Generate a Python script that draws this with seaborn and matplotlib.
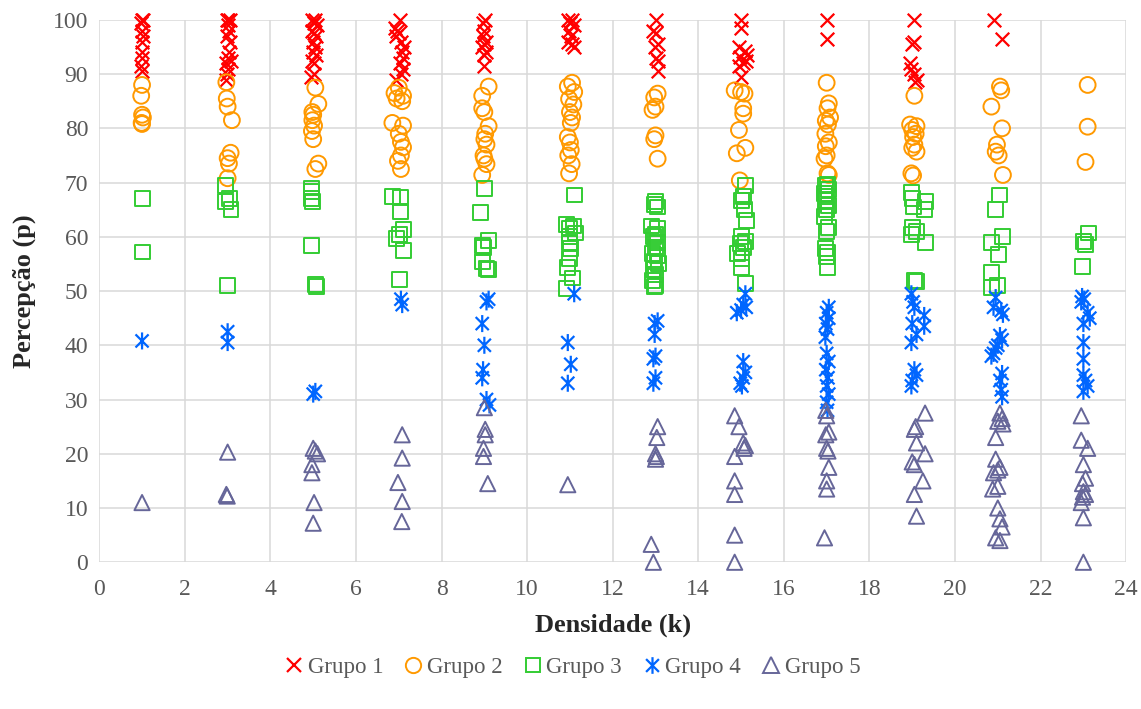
import numpy as np
import pandas as pd
import matplotlib.pyplot as plt
import seaborn as sns
from matplotlib.path import Path
from matplotlib.lines import Line2D

# ---------------------------------------------------------------------------
# DATA  (densidade k with small jitter, percepcao p)
# ---------------------------------------------------------------------------
g1_x = [1.0, 1.03, 0.98, 1.0, 1.02, 0.99, 1.0, 1.01, 0.98, 1.0,
        2.98, 3.05, 3.02, 3.0, 3.03, 2.99, 3.05, 3.04, 3.0, 3.08, 2.97, 3.02, 2.99, 2.96,
        4.97, 5.05, 5.02, 5.08, 4.98, 5.03, 5.06, 4.99, 5.04, 5.0, 5.07, 4.98, 5.03, 5.02, 4.96,
        7.02, 6.9, 6.95, 7.0, 6.93, 7.05, 7.12, 7.08, 7.1, 7.03, 7.1, 7.05, 6.93,
        9.02, 8.98, 9.0, 8.97, 9.03, 9.0, 8.95, 9.05, 9.0, 9.0,
        10.95, 11.05, 11.0, 11.1, 10.98, 11.02, 10.96, 11.05, 11.1,
        13.0, 12.95, 13.0, 13.05, 12.98, 13.0, 13.05, 13.05,
        15.0, 15.0, 14.95, 15.1, 15.15, 14.98, 15.12, 15.05, 14.95, 15.0,
        17.0, 17.0,
        19.05, 19.05, 19.0, 18.95, 18.98, 19.05, 19.1, 19.07,
        20.9, 21.1]
g1_y = [100, 100, 99.5, 98, 97, 96, 94, 93, 91.5, 90.5,
        100, 100, 100, 99, 98, 97, 96, 94, 93, 92.5, 92, 91, 90, 89,
        100, 100, 99.5, 99, 98, 97.5, 97, 96, 95, 94, 93.5, 92.5, 92, 90, 89.5,
        100, 98.5, 98, 97.5, 97, 96, 95, 94, 93, 92, 91, 90, 89,
        100, 99.5, 98, 97, 96, 95.5, 95, 94, 93.5, 91.5,
        100, 100, 99.5, 99, 98, 97, 96, 95.5, 95,
        100, 98, 97.5, 95.5, 95, 93, 92.5, 90.5,
        100, 98.5, 95, 94.3, 93.5, 93.2, 92.5, 92, 91.5, 89.5,
        100, 96.5,
        100, 96, 95.5, 92, 91, 90, 89, 88.5,
        100, 96.5]

g2_x = [1.0, 0.98, 1.0, 1.02, 0.99, 1.0,
        2.97, 2.98, 3.0, 3.1, 3.07, 3.0, 3.03, 3.0,
        5.05, 5.12, 4.98, 5.0, 4.98, 5.02, 4.97, 5.0, 5.12, 5.05,
        7.0, 6.9, 7.1, 6.95, 7.08, 6.85, 7.1, 7.0, 7.05, 7.1, 7.05, 6.98, 7.05,
        9.1, 8.95, 8.95, 9.0, 9.1, 9.02, 9.0, 9.05, 8.98, 9.0, 9.05, 8.95,
        11.05, 10.95, 11.1, 10.98, 11.08, 11.0, 11.05, 11.02, 10.95, 11.0, 11.02, 10.96, 11.04, 10.98,
        13.05, 12.97, 13.0, 12.93, 13.0, 12.97, 13.05,
        14.85, 15.0, 15.08, 15.05, 15.05, 14.95, 15.1, 14.9, 14.97,
        17.0, 17.05, 17.02, 17.08, 16.98, 17.03, 16.97, 17.05, 16.98, 17.0, 16.95, 17.02, 17.05,
        19.05, 18.95, 19.1, 19.0, 19.08, 19.02, 19.05, 19.0, 19.1, 18.98, 19.02,
        21.05, 21.08, 20.85, 21.1, 20.98, 20.95, 21.02, 21.12,
        23.1, 23.1, 23.05]
g2_y = [88, 86, 82.5, 82, 81, 80.8,
        88.5, 85.5, 84, 81.5, 75.5, 74.5, 73.5, 70.8,
        87.5, 84.5, 83, 82.5, 81.5, 80.5, 79.5, 78, 73.5, 72.5,
        87.5, 86.5, 86, 85.5, 85, 81, 80.5, 79, 77.5, 76.5, 75, 74, 72.5,
        87.7, 86, 83.7, 83, 80.4, 79, 78, 77, 75, 74.4, 73.4, 71.4,
        88.4, 87.7, 86.7, 85.4, 84.4, 83, 82, 81, 78.4, 77.4, 76, 75, 73.4, 71.7,
        86.4, 85.7, 84, 83.4, 78.7, 78, 74.4,
        87, 86.7, 86.4, 83.7, 82.7, 79.7, 76.4, 75.4, 70.4,
        88.4, 84.6, 83.7, 82, 81.4, 80.7, 79, 77.4, 76.7, 75, 74.4, 71.7, 71.4,
        86, 80.7, 80.4, 79.7, 79, 78.4, 77, 76.4, 75.7, 71.7, 71.3,
        87.7, 87, 84, 80, 77, 75.7, 75, 71.4,
        88, 80.3, 73.8]

g3_x = [1.0, 1.0,
        2.95, 3.05, 2.95, 3.08, 3.0,
        4.95, 4.97, 4.95, 4.98, 4.95, 5.05, 5.07,
        6.85, 7.05, 7.05, 7.1, 7.02, 6.95, 7.12, 7.02,
        9.0, 8.9, 9.1, 8.95, 8.98, 8.95, 9.05, 9.1,
        11.1, 10.92, 11.08, 11.0, 11.12, 10.98, 11.0, 11.02, 11.0, 10.95, 11.05, 10.92,
        13.0, 12.98, 13.05, 12.9, 13.05, 13.0, 12.95, 13.05, 13.0, 12.92, 13.05, 12.98, 13.06,
        12.95, 13.0, 12.93, 13.0, 12.97,
        15.1, 15.05, 15.02, 15.08, 15.12, 15.02, 15.1, 14.98, 15.05, 14.92, 15.0, 15.0, 15.1,
        17.02, 16.98, 17.05, 16.95, 17.0, 16.97, 17.05, 17.0, 16.96, 17.05, 17.0, 16.98, 17.03,
        17.0, 17.02,
        18.98, 19.0, 19.3, 19.02, 19.28, 19.0, 19.1, 18.98, 19.3, 19.05, 19.1,
        21.05, 20.95, 21.12, 20.85, 21.02, 20.85, 21.0, 20.85,
        23.12, 23.0, 23.05, 22.97]
g3_y = [67, 57.2,
        69.5, 67, 66.5, 65, 51,
        69, 68.4, 67, 66.5, 58.4, 51.2, 50.8,
        67.5, 67.2, 64.7, 61.4, 60.4, 59.7, 57.5, 52.2,
        68.9, 64.4, 59.4, 58.4, 58, 55.4, 54.2, 54,
        67.7, 62.2, 62, 61.5, 60.7, 60, 59, 57.8, 56, 54.4, 52.4, 50.4,
        66.5, 66, 65.5, 62, 61.5, 60.5, 60, 59, 58, 57, 56.5, 55.5, 55,
        54, 53, 52, 51, 50.8,
        69.4, 67.4, 66.7, 65, 63, 60, 59.2, 58.7, 58, 57, 56, 54.4, 51.4,
        69.7, 69.4, 68.7, 68, 67.4, 66.7, 65.7, 65, 63.7, 61.7, 61, 57.8, 57.1,
        56.4, 54.4,
        68.2, 67, 66.5, 65.5, 65, 61.7, 61, 60.4, 59, 52, 51.7,
        67.7, 65, 60, 59, 56.7, 53.4, 51, 50.7,
        60.7, 59.2, 58.5, 54.5]

g4_x = [1.0,
        3.0, 3.0,
        5.05, 5.0,
        7.05, 7.08,
        9.1, 9.05, 8.95, 9.0, 8.97, 8.95, 9.05, 9.12,
        11.1, 10.95, 11.02, 10.95,
        13.05, 12.98, 12.98, 13.0, 12.95, 13.0, 12.95,
        15.1, 15.05, 15.12, 15.0, 14.9, 15.05, 15.1, 15.05, 14.98, 15.02,
        17.05, 17.0, 17.05, 16.98, 17.02, 16.97, 17.0, 17.05, 16.98, 17.03, 17.0, 17.05, 17.0, 17.02,
        18.98, 19.02, 19.05, 19.28, 19.0, 19.28, 19.1, 18.98, 19.05, 19.1, 19.0, 18.98,
        20.95, 20.9, 21.08, 21.12, 21.05, 21.1, 21.0, 20.95, 20.9, 20.85, 21.1, 21.05, 21.08, 21.1,
        22.97, 23.02, 22.95, 23.1, 23.15, 23.0, 23.0, 23.0, 23.0, 23.05, 23.1, 23.0]
g4_y = [40.8,
        42.5, 40.5,
        31.5, 31.0,
        48.5, 47.5,
        48.5, 48, 44, 40, 35.5, 34, 30, 29,
        49.5, 40.5, 36.5, 33,
        44.5, 44, 42, 38, 37.5, 34, 33,
        49.5, 47.5, 47, 46.5, 46, 37, 35, 34, 33, 32.5,
        47, 46, 45, 44, 43, 41.5, 38.5, 37, 35.5, 34, 32.5, 31, 29.5, 28,
        49.5, 48, 47, 45.5, 44, 43.5, 42, 40.5, 35.5, 34.5, 33.5, 32.5,
        48.8, 47, 46.4, 45.7, 41.8, 41, 40, 39.5, 38.5, 38, 34.8, 33.5, 31.8, 30.5,
        49, 48.5, 48, 46, 45, 44, 40.5, 37.5, 34.5, 33.5, 32.5, 31.5]

g5_x = [1.0,
        3.0, 2.97, 2.99,
        5.0, 5.05, 5.1, 4.97, 4.97, 5.02, 5.0,
        7.08, 7.08, 6.98, 7.08, 7.07,
        9.0, 9.02, 9.02, 8.98, 8.98, 9.08,
        10.95,
        13.05, 13.03, 13.0, 13.02, 13.0, 12.9, 12.95,
        14.85, 14.95, 15.05, 15.1, 15.07, 14.85, 14.85, 14.85, 14.85, 14.85,
        16.98, 17.0, 17.05, 16.98, 17.0, 17.03, 17.05, 17.0, 17.0, 16.95,
        19.3, 19.08, 19.05, 19.1, 19.3, 19.0, 19.05, 19.25, 19.05, 19.1,
        21.05, 21.1, 21.0, 21.12, 20.95, 20.95, 21.05, 21.0, 20.9, 21.0, 20.88, 21.0,
        21.05, 21.1, 20.95, 21.05,
        22.95, 22.95, 23.1, 23.0, 23.05, 22.98, 23.0, 23.05, 22.98, 22.95, 23.0, 23.0]
g5_y = [11,
        20.3, 12.5, 12.2,
        21, 20.5, 20, 18, 16.5, 11, 7.2,
        23.5, 19.2, 14.7, 11.2, 7.5,
        28.5, 24.5, 23.5, 21, 19.5, 14.5,
        14.3,
        25, 23, 20, 19.5, 19, 3.3, 0,
        27, 25, 22, 21.5, 21, 19.5, 15, 12.5, 5, 0,
        28, 27, 24, 23.5, 21, 20.5, 17.5, 15, 13.5, 4.5,
        27.5, 25, 24.5, 22, 20, 18.5, 18, 15, 12.5, 8.5,
        27.5, 26.5, 26, 25.5, 23, 19, 17.5, 17, 16.5, 14, 13.5, 10,
        8, 6.5, 4.5, 4,
        27, 22.5, 21, 18, 15.5, 14.5, 13, 12.5, 12, 11, 8.2, 0]

group_names = ['Grupo 1', 'Grupo 2', 'Grupo 3', 'Grupo 4', 'Grupo 5']
x_ticks = list(range(0, 25, 2))
y_ticks = list(range(0, 101, 10))

# ---------------------------------------------------------------------------
# PLOT
# ---------------------------------------------------------------------------
sns.set_style('white')
plt.rcParams['font.family'] = ['Liberation Serif', 'DejaVu Serif']

# excel-like asterisk marker (x plus vertical bar)
star = Path([(-1, -1), (1, 1), (-1, 1), (1, -1), (0, -1.3), (0, 1.3)],
            [Path.MOVETO, Path.LINETO, Path.MOVETO, Path.LINETO, Path.MOVETO, Path.LINETO])

styles = [
    dict(marker='x', color='#FF0000', s=95, linewidth=1.6),
    dict(marker='o', facecolor='none', edgecolor='#FF9900', s=130, linewidth=1.4),
    dict(marker='s', facecolor='none', edgecolor='#33CC33', s=115, linewidth=1.4),
    dict(marker=star, facecolor='none', edgecolor='#0066FF', s=150, linewidth=1.6),
    dict(marker='^', facecolor='none', edgecolor='#666699', s=120, linewidth=1.4),
]
xs = [g1_x, g2_x, g3_x, g4_x, g5_x]
ys = [g1_y, g2_y, g3_y, g4_y, g5_y]

fig, ax = plt.subplots(figsize=(11.41, 7.09), dpi=100)
fig.subplots_adjust(left=0.087, right=0.987, top=0.972, bottom=0.207)

for name, gx, gy, st in zip(group_names, xs, ys, styles):
    df = pd.DataFrame({'k': gx, 'p': gy})
    sns.scatterplot(data=df, x='k', y='p', ax=ax, clip_on=False, zorder=3, **st)

ax.set_xlim(0, 24)
ax.set_ylim(0, 100)
ax.set_xticks(x_ticks)
ax.set_yticks(y_ticks)
ax.grid(True, color='#D9D9D9', linewidth=1.1)
ax.set_axisbelow(True)
for sp in ax.spines.values():
    sp.set_visible(False)
ax.tick_params(length=0, labelsize=17, colors='#595959')
ax.tick_params(axis='x', pad=12)
ax.tick_params(axis='y', pad=8)
ax.set_xlabel('Densidade (k)', fontsize=19, fontweight='bold', labelpad=10)
ax.set_ylabel('Percepção (p)', fontsize=19, fontweight='bold', labelpad=12)

handles = [
    Line2D([], [], linestyle='none', marker='x', color='#FF0000', markersize=10, markeredgewidth=1.6),
    Line2D([], [], linestyle='none', marker='o', markerfacecolor='none', markeredgecolor='#FF9900', markersize=11, markeredgewidth=1.4),
    Line2D([], [], linestyle='none', marker='s', markerfacecolor='none', markeredgecolor='#33CC33', markersize=10.5, markeredgewidth=1.4),
    Line2D([], [], linestyle='none', marker=star, markerfacecolor='none', markeredgecolor='#0066FF', markersize=12, markeredgewidth=1.6),
    Line2D([], [], linestyle='none', marker='^', markerfacecolor='none', markeredgecolor='#666699', markersize=11, markeredgewidth=1.4),
]
fig.legend(handles, group_names, loc='center', bbox_to_anchor=(0.5, 0.058), ncol=5,
           frameon=False, fontsize=16.5, handletextpad=0.0, columnspacing=0.7,
           handlelength=1.2, labelcolor='#595959')

plt.savefig('out.png', dpi=100)
